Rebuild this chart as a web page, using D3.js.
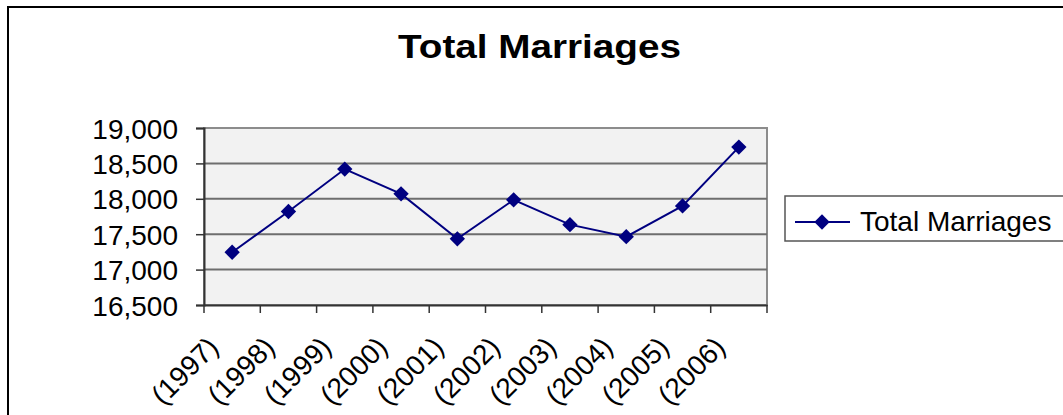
<!DOCTYPE html>
<html>
<head>
<meta charset="utf-8">
<script src="https://cdn.jsdelivr.net/npm/d3@7"></script>
<style>
  body { margin: 0; background: #fff; }
  svg { display: block; font-family: Arial, 'Liberation Sans', sans-serif; }
</style>
</head>
<body>
<div id="chart"></div>
<script>
const years = ['(1997)', '(1998)', '(1999)', '(2000)', '(2001)', '(2002)', '(2003)', '(2004)', '(2005)', '(2006)']
const marriages = [17245, 17820, 18420, 18070, 17435, 17985, 17635, 17465, 17900, 18730]
const yTicks = [16500, 17000, 17500, 18000, 18500, 19000]
const seriesName = 'Total Marriages'

const width = 1063
const height = 415
const plot = { left: 204, right: 767, top: 128, bottom: 305 }

const svg = d3.select('#chart')
  .append('svg')
  .attr('width', width)
  .attr('height', height)

// outer chart frame (cut off right and bottom)
svg.append('path')
  .attr('d', `M8,${height + 2} L8,7 L${width + 2},7`)
  .attr('fill', 'none')
  .attr('stroke', '#000')
  .attr('stroke-width', 2)

svg.append('text')
  .attr('x', 398)
  .attr('y', 58)
  .attr('textLength', 283)
  .attr('lengthAdjust', 'spacingAndGlyphs')
  .attr('font-size', 34)
  .attr('font-weight', 'bold')
  .text(seriesName)

const x = d3.scaleBand()
  .domain(years)
  .range([plot.left, plot.right])

const y = d3.scaleLinear()
  .domain([16500, 19000])
  .range([plot.bottom, plot.top])

svg.append('rect')
  .attr('x', plot.left)
  .attr('y', plot.top)
  .attr('width', plot.right - plot.left)
  .attr('height', plot.bottom - plot.top)
  .attr('fill', '#f2f2f2')
  .attr('stroke', '#8c8c8c')
  .attr('stroke-width', 2)

svg.append('g')
  .selectAll('line')
  .data(yTicks.slice(1, -1))
  .join('line')
  .attr('x1', plot.left)
  .attr('x2', plot.right)
  .attr('y1', d => y(d))
  .attr('y2', d => y(d))
  .attr('stroke', '#6e6e6e')
  .attr('stroke-width', 2)

const yAxis = svg.append('g')
  .attr('transform', `translate(${plot.left},0)`)
  .call(d3.axisLeft(y).tickValues(yTicks).tickSize(8).tickPadding(18).tickFormat(d3.format(',')))
yAxis.select('.domain').attr('stroke', '#333').attr('stroke-width', 2)
yAxis.selectAll('.tick line').attr('stroke', '#333').attr('stroke-width', 1.5)
yAxis.selectAll('.tick text')
  .attr('font-size', 28)
  .attr('fill', '#000')
  .attr('font-family', 'Arial, Liberation Sans, sans-serif')
  .attr('dy', '0.36em')

const xAxis = svg.append('g')
  .attr('transform', `translate(0,${plot.bottom})`)
  .call(d3.axisBottom(x).tickSize(0).tickFormat(''))
xAxis.select('.domain').attr('stroke', '#333').attr('stroke-width', 2)

// category boundary ticks
svg.append('g')
  .selectAll('line')
  .data(years.map(d => x(d)).concat([plot.right]))
  .join('line')
  .attr('x1', d => d)
  .attr('x2', d => d)
  .attr('y1', plot.bottom)
  .attr('y2', plot.bottom + 8)
  .attr('stroke', '#333')
  .attr('stroke-width', 1.5)

svg.append('g')
  .selectAll('text')
  .data(years)
  .join('text')
  .attr('transform', d => `translate(${x(d) + x.bandwidth() / 2 - 12},${plot.bottom + 44}) rotate(-45)`)
  .attr('text-anchor', 'end')
  .attr('font-size', 28)
  .text(d => d)

const line = d3.line()
  .x((d, i) => x(years[i]) + x.bandwidth() / 2)
  .y(d => y(d))

svg.append('path')
  .datum(marriages)
  .attr('d', line)
  .attr('fill', 'none')
  .attr('stroke', '#000080')
  .attr('stroke-width', 2)

const diamond = d3.symbol().type(d3.symbolDiamond2).size(150)

svg.append('g')
  .selectAll('path')
  .data(marriages)
  .join('path')
  .attr('transform', (d, i) => `translate(${x(years[i]) + x.bandwidth() / 2},${y(d)})`)
  .attr('d', diamond)
  .attr('fill', '#000080')

// legend
const legend = svg.append('g')

legend.append('rect')
  .attr('x', 785)
  .attr('y', 196)
  .attr('width', 300)
  .attr('height', 45)
  .attr('fill', '#fff')
  .attr('stroke', '#555')
  .attr('stroke-width', 1.5)

legend.append('line')
  .attr('x1', 795)
  .attr('x2', 850)
  .attr('y1', 222)
  .attr('y2', 222)
  .attr('stroke', '#000080')
  .attr('stroke-width', 2)

legend.append('path')
  .attr('transform', 'translate(822,222)')
  .attr('d', diamond)
  .attr('fill', '#000080')

legend.append('text')
  .attr('x', 860)
  .attr('y', 231)
  .attr('font-size', 28)
  .text(seriesName)
</script>
</body>
</html>
